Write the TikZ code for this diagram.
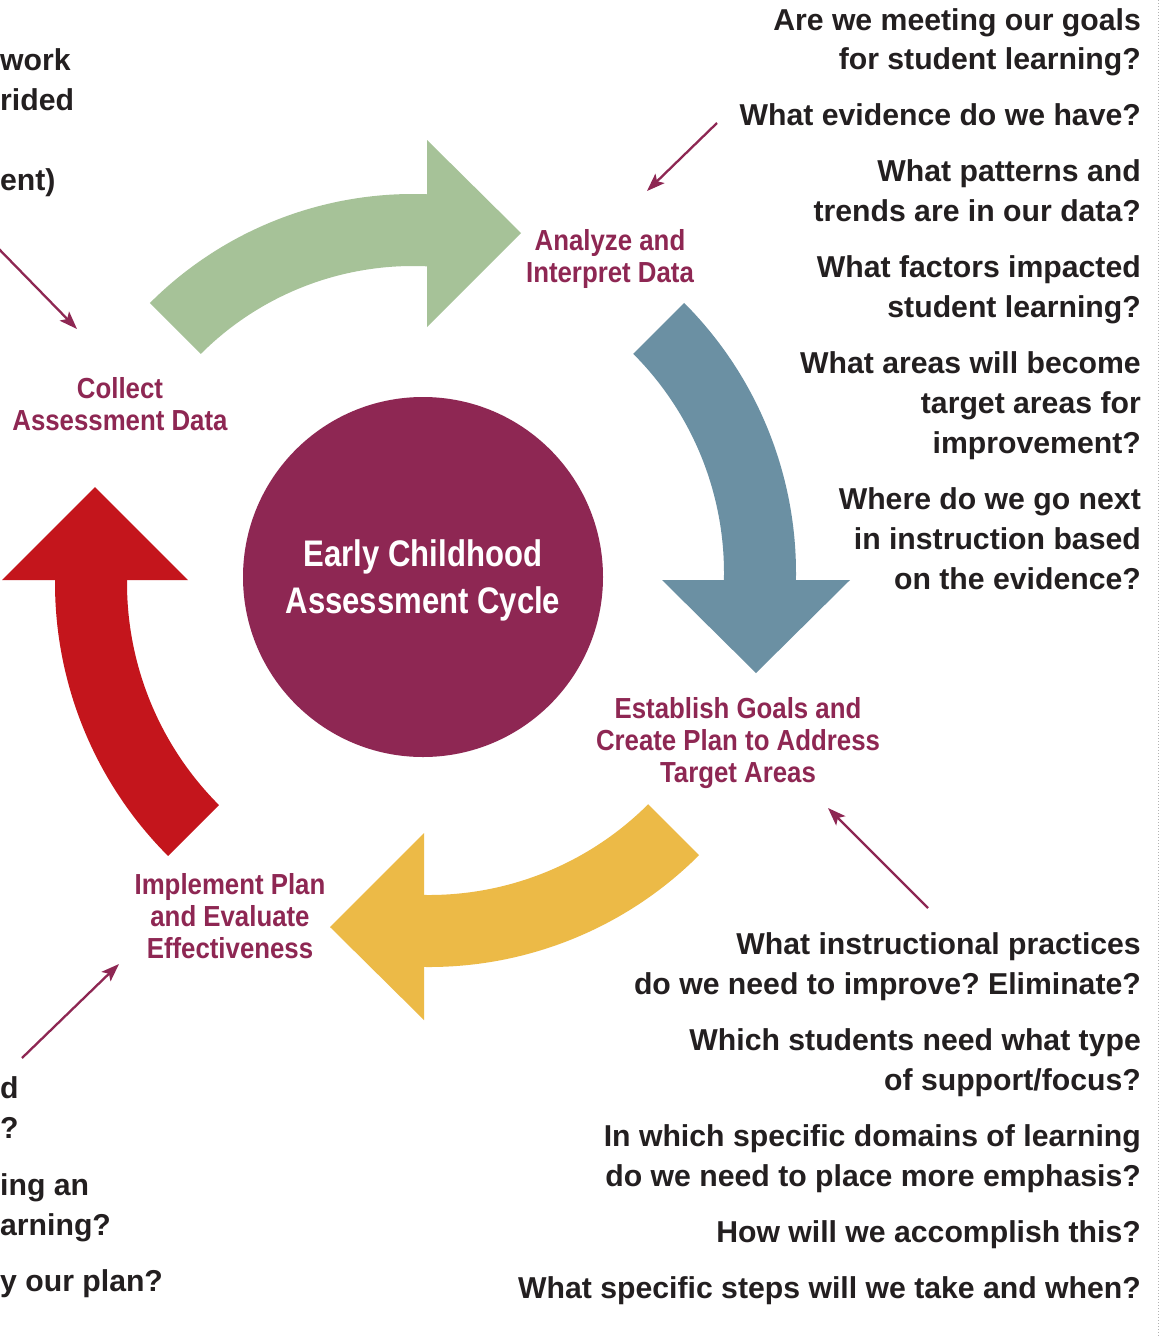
\documentclass[tikz,border=0pt]{standalone}
\usepackage{fontspec}
\setmainfont{Liberation Sans}
\newfontfamily\qfont{Liberation Sans}
\newfontfamily\lfont[FakeStretch=0.89]{Liberation Sans}
\newfontfamily\cfont[FakeStretch=0.84]{Liberation Sans}
\usetikzlibrary{arrows.meta,calc}
\definecolor{cgreen}{HTML}{A6C298}
\definecolor{cblue}{HTML}{6B90A3}
\definecolor{cyellow}{HTML}{ECBA47}
\definecolor{cred}{HTML}{C4151C}
\definecolor{cmaroon}{HTML}{8E2753}
\definecolor{ctext}{HTML}{231F20}
\frenchspacing
\tikzset{
  question/.style={font=\qfont\bfseries\fontsize{30.2}{36}\selectfont, text=ctext, anchor=base east, inner sep=0pt},
  leftq/.style={question, anchor=base west},
  steplabel/.style={font=\lfont\bfseries\fontsize{29}{32}\selectfont, text=cmaroon, anchor=base, inner sep=0pt},
  pointer/.style={draw=cmaroon, line width=2.3pt, -{Stealth[length=18pt,width=13pt,inset=4pt]}},
}
\begin{document}
\begin{tikzpicture}[x=1pt,y=1pt]
\clip (0,0) rectangle (1161,-1336);
\fill[white] (0,0) rectangle (1161,-1336);
% dotted rule at right edge
\coordinate (ruletop) at (1158,0);
\coordinate (rulebot) at (1158,-1336);
\draw[black!30, dotted, line width=1pt] (ruletop) -- (rulebot);

% green arrow
\coordinate (cg) at (413,-566);
\fill[cgreen] ($(cg)+(135:372)$) arc[start angle=135,end angle=83,radius=372]
  -- ($(cg)+(83:300)$) arc[start angle=83,end angle=135,radius=300] -- cycle;
\fill[cgreen] (427,-140) -- (521,-233) -- (427,-327) -- cycle;
% blue arrow
\coordinate (cb) at (414,-573);
\fill[cblue] ($(cb)+(45:382)$) arc[start angle=45,end angle=-6,radius=382]
  -- ($(cb)+(-6:310)$) arc[start angle=-6,end angle=45,radius=310] -- cycle;
\fill[cblue] (662,-580) -- (850,-580) -- (756,-673) -- cycle;
% yellow arrow
\coordinate (cy) at (429,-585);
\fill[cyellow] ($(cy)+(-45:382)$) arc[start angle=-45,end angle=-96,radius=382]
  -- ($(cy)+(-96:310)$) arc[start angle=-96,end angle=-45,radius=310] -- cycle;
\fill[cyellow] (424,-833) -- (424,-1020) -- (330,-927) -- cycle;
% red arrow
\coordinate (cr) at (441,-583);
\fill[cred] ($(cr)+(225:386)$) arc[start angle=225,end angle=175,radius=386]
  -- ($(cr)+(175:314)$) arc[start angle=175,end angle=225,radius=314] -- cycle;
\fill[cred] (2,-580) -- (188,-580) -- (95,-487) -- cycle;

% hub
\node[circle, fill=cmaroon, minimum size=360pt, inner sep=0pt] (hub) at (423,-577) {};
\node[text=white, align=center, inner sep=0pt,
  font=\cfont\bfseries\fontsize{37}{47}\selectfont] (hubtext) at (423,-580) {Early Childhood\\Assessment Cycle};

% step labels
\node[steplabel] (an1) at (610,-250) {Analyze and};
\node[steplabel] (an2) at (610,-282) {Interpret Data};
\node[steplabel] (co1) at (120,-398) {Collect};
\node[steplabel] (co2) at (120,-430) {Assessment Data};
\node[steplabel] (es1) at (738,-718) {Establish Goals and};
\node[steplabel] (es2) at (738,-750) {Create Plan to Address};
\node[steplabel] (es3) at (738,-782) {Target Areas};
\node[steplabel] (im1) at (230,-894) {Implement Plan};
\node[steplabel] (im2) at (230,-926) {and Evaluate};
\node[steplabel] (im3) at (230,-958) {Effectiveness};

% pointers
\coordinate (p1s) at (717,-123); \coordinate (p1e) at (647,-191);
\coordinate (p2s) at (-4,-246);  \coordinate (p2e) at (77,-329);
\coordinate (p3s) at (928,-908); \coordinate (p3e) at (828,-808);
\coordinate (p4s) at (22,-1058); \coordinate (p4e) at (119,-964);
\draw[pointer] (p1s) -- (p1e);
\draw[pointer] (p2s) -- (p2e);
\draw[pointer] (p3s) -- (p3e);
\draw[pointer] (p4s) -- (p4e);

% questions, top right
\node[question] (qa1) at (1141,-30)  {Are we meeting our goals};
\node[question] (qa2) at (1141,-69)  {for student learning?};
\node[question] (qb1) at (1141,-125) {What evidence do we have?};
\node[question] (qc1) at (1141,-181) {What patterns and};
\node[question] (qc2) at (1141,-221) {trends are in our data?};
\node[question] (qd1) at (1141,-277) {What factors impacted};
\node[question] (qd2) at (1141,-317) {student learning?};
\node[question] (qe1) at (1141,-373) {What areas will become};
\node[question] (qe2) at (1141,-413) {target areas for};
\node[question] (qe3) at (1141,-453) {improvement?};
\node[question] (qf1) at (1141,-509) {Where do we go next};
\node[question] (qf2) at (1141,-549) {in instruction based};
\node[question] (qf3) at (1141,-589) {on the evidence?};
% questions, bottom right
\node[question] (qg1) at (1141,-954)  {What instructional practices};
\node[question] (qg2) at (1141,-994)  {do we need to improve? Eliminate?};
\node[question] (qh1) at (1141,-1050) {Which students need what type};
\node[question] (qh2) at (1141,-1090) {of support/focus?};
\node[question] (qi1) at (1141,-1146) {In which specific domains of learning};
\node[question] (qi2) at (1141,-1186) {do we need to place more emphasis?};
\node[question] (qj1) at (1141,-1242) {How will we accomplish this?};
\node[question] (qk1) at (1141,-1298) {What specific steps will we take and when?};
% question fragments at the left edge
\node[leftq] (la1) at (0,-70)   {work};
\node[leftq] (la2) at (0,-110)  {rided};
\node[leftq] (la3) at (0,-190)  {ent)};
\node[leftq] (lb1) at (0,-1098) {d};
\node[leftq] (lb2) at (0,-1138) {?};
\node[leftq] (lb3) at (0,-1195) {ing an};
\node[leftq] (lb4) at (0,-1235) {arning?};
\node[leftq] (lb5) at (0,-1291) {y our plan?};
\end{tikzpicture}
\end{document}
